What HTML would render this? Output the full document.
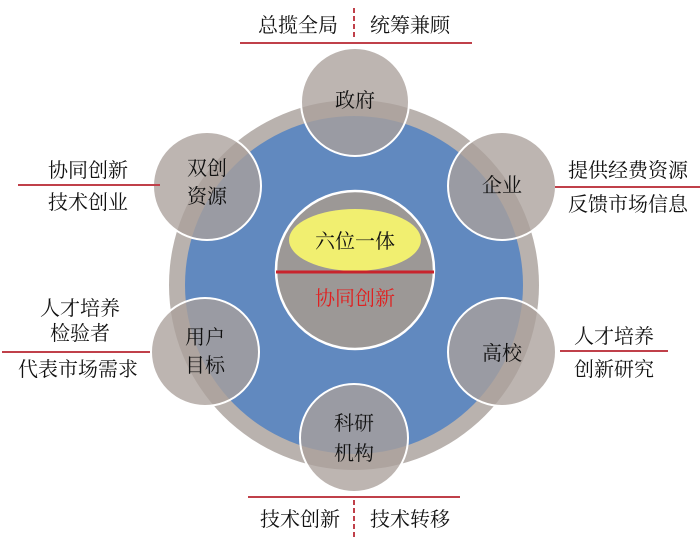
<!DOCTYPE html>
<html><head><meta charset="utf-8"><style>
html,body{margin:0;padding:0;background:#fff}
svg text{font-family:"Liberation Serif","Noto Serif CJK SC",serif;font-size:20px;fill:#111}
</style></head><body>
<svg width="700" height="541" viewBox="0 0 700 541" xmlns="http://www.w3.org/2000/svg">
<circle cx="354" cy="285" r="185" fill="#b9b2ae"/>
<circle cx="354" cy="285" r="169" fill="#6189bf"/>
<circle cx="355" cy="270" r="79" fill="#9c9896" stroke="#fff" stroke-width="2.5"/>
<ellipse cx="355" cy="240" rx="66" ry="31" fill="#f1ef70"/>
<line x1="276" y1="272" x2="434" y2="272" stroke="#c8242c" stroke-width="3"/>
<text x="355" y="248" text-anchor="middle">六位一体</text>
<text x="355" y="305" text-anchor="middle" style="fill:#e02020">协同创新</text>
<g fill="rgba(170,160,155,0.78)" stroke="#fff" stroke-width="2">
<circle cx="355" cy="102" r="54"/>
<circle cx="207" cy="186" r="54"/>
<circle cx="502" cy="186" r="54"/>
<circle cx="205" cy="352" r="54"/>
<circle cx="502" cy="352" r="54"/>
<circle cx="354" cy="438" r="54"/>
</g>
<text x="355" y="107" text-anchor="middle">政府</text>
<text x="207" y="175" text-anchor="middle">双创</text>
<text x="207" y="203" text-anchor="middle">资源</text>
<text x="502" y="192" text-anchor="middle">企业</text>
<text x="205" y="344" text-anchor="middle">用户</text>
<text x="205" y="372" text-anchor="middle">目标</text>
<text x="502" y="360" text-anchor="middle">高校</text>
<text x="354" y="430" text-anchor="middle">科研</text>
<text x="354" y="460" text-anchor="middle">机构</text>
<g stroke="#c0404a" stroke-width="2">
<line x1="240" y1="43" x2="472" y2="43"/>
<line x1="18" y1="185" x2="160" y2="185"/>
<line x1="555" y1="187" x2="700" y2="187"/>
<line x1="2" y1="352" x2="150" y2="352"/>
<line x1="560" y1="351" x2="668" y2="351"/>
<line x1="248" y1="497" x2="460" y2="497"/>
<line x1="354" y1="8" x2="354" y2="40" stroke-dasharray="5,3"/>
<line x1="354" y1="500" x2="354" y2="538" stroke-dasharray="5,3"/>
</g>
<text x="298" y="32" text-anchor="middle">总揽全局</text>
<text x="410" y="32" text-anchor="middle">统筹兼顾</text>
<text x="88" y="177" text-anchor="middle">协同创新</text>
<text x="88" y="209" text-anchor="middle">技术创业</text>
<text x="628" y="177" text-anchor="middle">提供经费资源</text>
<text x="628" y="211" text-anchor="middle">反馈市场信息</text>
<text x="80" y="315" text-anchor="middle">人才培养</text>
<text x="80" y="340" text-anchor="middle">检验者</text>
<text x="78" y="376" text-anchor="middle">代表市场需求</text>
<text x="614" y="343" text-anchor="middle">人才培养</text>
<text x="614" y="376" text-anchor="middle">创新研究</text>
<text x="300" y="526" text-anchor="middle">技术创新</text>
<text x="410" y="526" text-anchor="middle">技术转移</text>
</svg>
</body></html>
